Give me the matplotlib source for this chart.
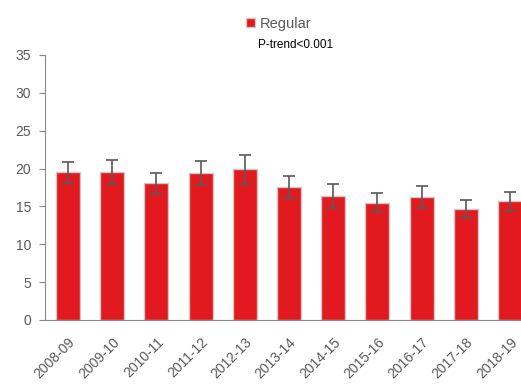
import matplotlib
matplotlib.use("Agg")
import matplotlib.pyplot as plt
import numpy as np

plt.rcParams["font.family"] = ["Liberation Sans", "DejaVu Sans"]

# survey years, prevalence (%) and 95% CI half-widths
years = ["2008-09", "2009-10", "2010-11", "2011-12", "2012-13", "2013-14",
         "2014-15", "2015-16", "2016-17", "2017-18", "2018-19"]
regular = [19.5, 19.5, 18.05, 19.4, 19.9, 17.6, 16.4, 15.5, 16.2, 14.7, 15.7]
ci = [1.35, 1.6, 1.35, 1.6, 1.9, 1.45, 1.6, 1.25, 1.45, 1.2, 1.25]

red = "#e2191f"
grey = "#595959"

fig = plt.figure(figsize=(5.21, 3.88), dpi=100)
ax = fig.add_axes([0.0864, 0.1753, 0.935, 0.683])

x = np.arange(len(years))
ax.bar(x, regular, width=0.54, color=red, edgecolor="#c8c8c8", linewidth=1,
       yerr=ci, error_kw=dict(ecolor=grey, elinewidth=1.2, capsize=4, capthick=1.2),
       label="Regular")

ax.set_xlim(-0.52, 10.5)
ax.set_ylim(0, 35)
ax.set_yticks(range(0, 36, 5))
ax.set_xticks(x)
ax.set_xticklabels(years, rotation=45, ha="right", rotation_mode="anchor")

for s in ["top", "right"]:
    ax.spines[s].set_visible(False)
for s in ["left", "bottom"]:
    ax.spines[s].set_color("#888888")
ax.tick_params(axis="y", colors=grey, labelsize=10, length=4, color="#888888", pad=6)
ax.tick_params(axis="x", colors=grey, labelsize=10, length=0, pad=11)

leg = ax.legend(loc="upper left", bbox_to_anchor=(0.473, 0.957),
                bbox_transform=fig.transFigure, frameon=False,
                handlelength=0.6, handleheight=0.6, handletextpad=0.3,
                fontsize=10.5, borderaxespad=0, borderpad=0)
for t in leg.get_texts():
    t.set_color(grey)
fig.text(0.495, 0.876, "P-trend<0.001", fontsize=8.5, color="black")

fig.savefig("out.png", dpi=100)
